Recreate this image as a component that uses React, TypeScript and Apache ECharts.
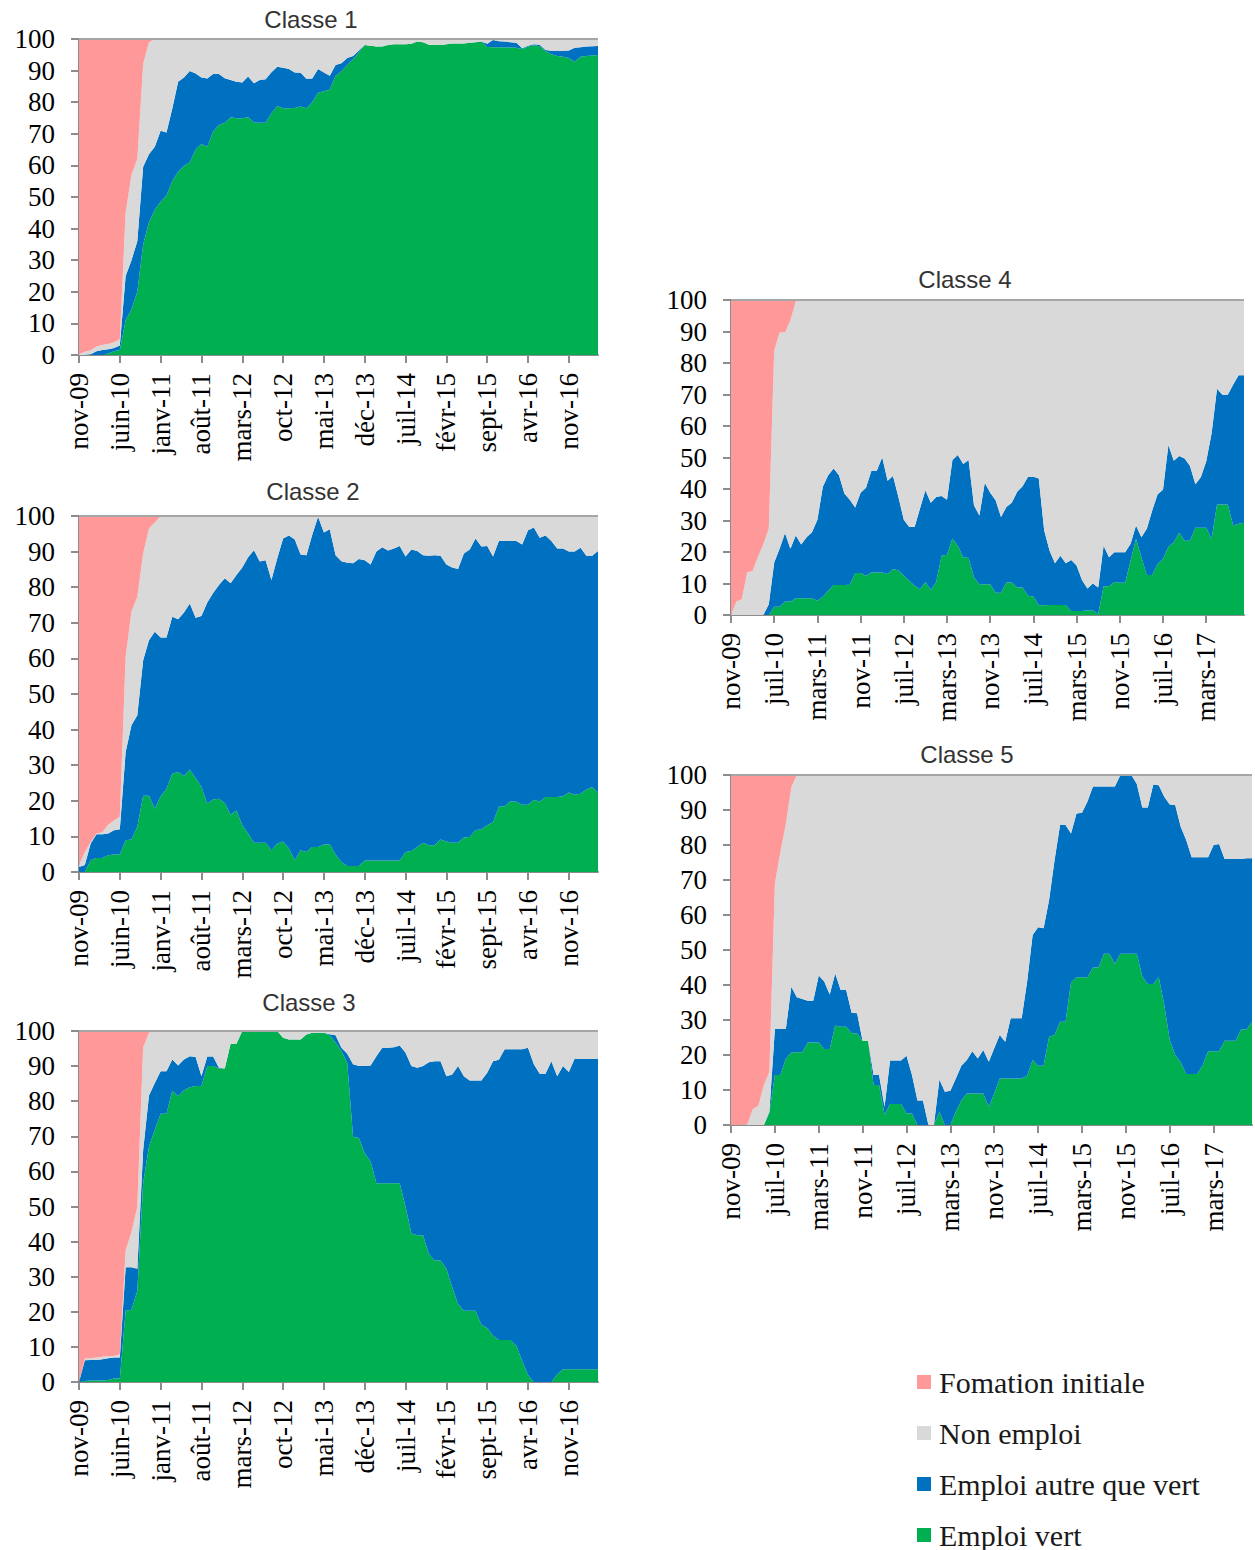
import React, { useEffect, useRef } from "react";
import * as echarts from "echarts";

// ---------- categories ----------
const MONTHS = ["janv", "févr", "mars", "avr", "mai", "juin", "juil", "août", "sept", "oct", "nov", "déc"];
function monthLabels(count: number): string[] {
  const out: string[] = [];
  for (let k = 0; k < count; k++) {
    const m = (10 + k) % 12;
    const y = 2009 + Math.floor((10 + k) / 12);
    out.push(MONTHS[m] + "-" + String(y % 100).padStart(2, "0"));
  }
  return out;
}
const CATS_A = monthLabels(90); // nov-09 .. avr-17
const CATS_B = monthLabels(96); // nov-09 .. oct-17

const SERIES_NAMES = ["Fomation initiale", "Non emploi", "Emploi autre que vert", "Emploi vert"];
const COLORS = { formation: "#FF9999", non: "#D9D9D9", autre: "#0070C0", vert: "#00B050" };

// ---------- data (%), emploi = emploi vert + emploi autre (cumulative) ----------
const C1_VERT = [
  0, 0, 0, 0, 0, 0.5, 1.2, 1.6, 11, 14.5,
  20, 35, 42, 46, 48.5, 50.5, 55, 58, 59.8, 61,
  65, 66.8, 65.9, 70.7, 72.8, 73.5, 75.2, 74.9, 74.9, 75.2,
  73.6, 73.5, 73.5, 76.5, 78.8, 78.1, 78.1, 78.2, 78.6, 78.1,
  80, 83, 83.5, 84, 88.3, 89.8, 91.8, 93.6, 95.8, 98.1,
  97.9, 97.6, 97.6, 98.1, 98.3, 98.3, 98.3, 98.5, 99.2, 99,
  98.2, 98.1, 98.1, 98.3, 98.6, 98.6, 98.6, 98.8, 99, 99.2,
  97.5, 97.4, 97.4, 97.3, 97.3, 97.2, 96.8, 97.6, 98, 97.7,
  96.2, 95.2, 94.6, 94.4, 94, 92.8, 94.4, 94.6, 94.8, 94.9,
];
const C1_EMPLOI = [
  0, 0, 0.2, 1.2, 1.6, 1.8, 2.2, 3, 25, 30,
  36, 59.6, 63.5, 65.9, 71, 70.4, 78, 86.5, 87.8, 89.9,
  89.1, 87.8, 87.5, 88.9, 88.9, 87.6, 87, 86.5, 86.2, 88.1,
  86, 87, 87.3, 89.5, 91.2, 90.9, 90.5, 89.4, 89.3, 87.4,
  87.5, 90.5, 89.4, 88.4, 91.8, 92.3, 94, 94.6, 96.4, 98.1,
  97.9, 97.6, 97.6, 98.1, 98.3, 98.3, 98.3, 98.5, 99.2, 99,
  98.2, 98.1, 98.1, 98.3, 98.6, 98.6, 98.6, 98.8, 99, 99.2,
  98.5, 99.7, 99.3, 99.2, 99, 98.8, 97.1, 97.9, 98.3, 98.2,
  96.5, 96.3, 96.3, 96.3, 96.4, 97.2, 97.4, 97.6, 97.7, 97.8,
];
const C1_FORMATION = [
  99.7, 99, 98.5, 97.3, 96.8, 96.5, 96, 95, 55, 43,
  38, 8, 1, 0, 0, 0, 0, 0, 0, 0,
  0, 0, 0, 0, 0, 0, 0, 0, 0, 0,
  0, 0, 0, 0, 0, 0, 0, 0, 0, 0,
  0, 0, 0, 0, 0, 0, 0, 0, 0, 0,
  0, 0, 0, 0, 0, 0, 0, 0, 0, 0,
  0, 0, 0, 0, 0, 0, 0, 0, 0, 0,
  0, 0, 0, 0, 0, 0, 0, 0, 0, 0,
  0, 0, 0, 0, 0, 0, 0, 0, 0, 0,
];

const C2_VERT = [
  0, 0, 3.3, 3.9, 3.9, 4.7, 4.9, 4.9, 8.9, 9.1,
  12.7, 21.4, 21.4, 17.8, 21.3, 23.4, 27.6, 28.1, 27, 28.8,
  26.4, 23.9, 19.2, 20.4, 20.6, 19.4, 16.1, 17.3, 13.1, 10.8,
  8.2, 8.2, 8.2, 6.1, 8, 8.6, 6.6, 3.3, 6.1, 5.6,
  7, 7, 7.7, 7.8, 4.9, 2.8, 1.7, 1.7, 1.7, 3.2,
  3.2, 3.2, 3.2, 3.2, 3.2, 3.2, 5.6, 5.9, 7, 8.2,
  7.5, 7.5, 9.1, 8.6, 8.2, 8.2, 9.7, 9.8, 11.7, 12,
  13.1, 14, 18.3, 18.5, 19.9, 19.7, 18.9, 18.9, 20.3, 19.7,
  21.1, 21.1, 21.1, 21.3, 22.3, 21.7, 22, 23.2, 23.9, 22.3,
];
const C2_EMPLOI = [
  1.4, 2, 8, 10.6, 10.6, 10.8, 11.7, 12, 33.7, 41.2,
  44, 59.5, 65.1, 67.5, 65.9, 65.9, 71.7, 71, 72.9, 75.4,
  71.4, 71.9, 75.7, 78.4, 80.6, 82.5, 81.1, 83.4, 85.5, 88.4,
  90.4, 87.2, 87.6, 82, 88.1, 93.7, 94.5, 93.4, 89.2, 89,
  94.7, 99.8, 95.4, 96.3, 89, 87.3, 86.9, 86.7, 87.9, 87.6,
  86.4, 90, 91.2, 90.3, 90.9, 91.6, 88.6, 90.6, 90.2, 89,
  88.8, 89, 88.8, 86.4, 85.5, 85.1, 89.5, 90.6, 93.7, 91.4,
  91.6, 88.6, 93, 93, 93, 93, 92, 96, 96.8, 93.9,
  94.5, 93, 90.9, 90.9, 90, 90, 91.1, 88.8, 88.8, 90.2,
];
const C2_FORMATION = [
  98, 94.4, 91.6, 89.2, 88.8, 86.7, 85.5, 84.5, 39.6, 26.9,
  22.7, 10.5, 3.5, 1.8, 0, 0, 0, 0, 0, 0,
  0, 0, 0, 0, 0, 0, 0, 0, 0, 0,
  0, 0, 0, 0, 0, 0, 0, 0, 0, 0,
  0, 0, 0, 0, 0, 0, 0, 0, 0, 0,
  0, 0, 0, 0, 0, 0, 0, 0, 0, 0,
  0, 0, 0, 0, 0, 0, 0, 0, 0, 0,
  0, 0, 0, 0, 0, 0, 0, 0, 0, 0,
  0, 0, 0, 0, 0, 0, 0, 0, 0, 0,
];

const C3_VERT = [
  0, 0.3, 0.4, 0.4, 0.4, 0.6, 1, 1, 20.3, 20.6,
  26, 56.6, 67.1, 71.9, 76.4, 76.4, 83, 81.4, 83.1, 84,
  84.3, 84.3, 90, 90, 89.3, 89.3, 96.4, 96.4, 100, 100,
  100, 100, 100, 100, 100, 98.1, 97.6, 97.6, 97.6, 99,
  99.5, 99.5, 99.5, 98.8, 96.7, 94.3, 90.9, 69.9, 69.5, 65.2,
  62.8, 56.6, 56.6, 56.6, 56.6, 56.6, 49.9, 42.3, 41.8, 41.8,
  36.5, 34.6, 34.6, 32.3, 27, 22.2, 20.3, 20.3, 20.3, 16.3,
  15.4, 13.2, 12, 12, 12, 10.3, 6, 2, 0, 0,
  0, 0, 2.2, 3.6, 3.6, 3.6, 3.6, 3.6, 3.6, 3.6,
];
const C3_EMPLOI = [
  0, 6.2, 6.3, 6.3, 6.5, 6.8, 7, 7, 32.7, 32.7,
  32.3, 66, 81.6, 85.2, 88.5, 88.5, 91.9, 90.2, 91.9, 92.8,
  92.6, 87.1, 92.7, 92.7, 89.5, 89.3, 96.4, 96.4, 100, 100,
  100, 100, 100, 100, 100, 98.1, 97.6, 97.6, 97.6, 99,
  99.5, 99.5, 99.5, 99.1, 98.8, 95.2, 93.5, 90.5, 90, 90,
  90.2, 92.8, 95.2, 95.2, 95.4, 95.9, 93.8, 90, 89.5, 90,
  91.1, 91.4, 91.4, 87.1, 87.6, 90, 87.1, 85.9, 85.9, 85.9,
  88.1, 91.4, 91.8, 94.8, 94.8, 94.8, 94.8, 95.2, 90.5, 87.8,
  87.8, 91.4, 87.1, 90, 88.3, 92.2, 92, 92, 92, 92,
];
const C3_FORMATION = [
  100, 93.3, 93.2, 93, 92.8, 92.6, 92.6, 92.1, 62.5, 57.3,
  50.1, 4.8, 0.5, 0, 0, 0, 0, 0, 0, 0,
  0, 0, 0, 0, 0, 0, 0, 0, 0, 0,
  0, 0, 0, 0, 0, 0, 0, 0, 0, 0,
  0, 0, 0, 0, 0, 0, 0, 0, 0, 0,
  0, 0, 0, 0, 0, 0, 0, 0, 0, 0,
  0, 0, 0, 0, 0, 0, 0, 0, 0, 0,
  0, 0, 0, 0, 0, 0, 0, 0, 0, 0,
  0, 0, 0, 0, 0, 0, 0, 0, 0, 0,
];

const C4_VERT = [
  0, 0, 0, 0, 0, 0, 0, 0, 2.6, 2.6,
  4.3, 4.3, 5.3, 5.3, 5.3, 5.3, 4.5, 5.8, 7.7, 9.5,
  9.5, 9.5, 9.6, 13.3, 13.3, 12.5, 13.5, 13.5, 13.5, 13,
  14.6, 14.1, 12.5, 10.9, 9.3, 8.2, 10.5, 7.9, 10.5, 18.8,
  19.1, 24.2, 22, 18.3, 18.1, 11.9, 9.8, 9.8, 9.8, 7.1,
  7.1, 10.3, 10.3, 8.7, 8.7, 6.1, 5.9, 3.1, 3.1, 3.2,
  3.2, 3.2, 3.2, 1.3, 1.3, 1.3, 1.5, 1.5, 0.2, 9.1,
  9.1, 10.5, 10.2, 10.2, 17.3, 24.2, 18.3, 12.7, 12.7, 16.2,
  17.8, 21.7, 23.1, 26.1, 23.6, 23.6, 27.7, 27.7, 27.7, 24.2,
  35.1, 35.1, 35.1, 28.4, 29, 29.3,
];
const C4_EMPLOI = [
  0, 0, 0, 0, 0, 0, 0, 3.4, 16.7, 21,
  26, 21, 25.2, 22.4, 24.7, 26.3, 30.2, 40.7, 44.4, 46.5,
  44.4, 38.6, 36.6, 34.1, 38.8, 40.4, 45.8, 45.8, 50.1, 42.6,
  44.1, 37.5, 30.2, 27.9, 27.9, 33.8, 39.6, 35.6, 37.5, 37.8,
  36.6, 49.2, 50.8, 47.9, 49.2, 34.8, 31.6, 42, 38.8, 36.4,
  31.1, 34.3, 35.6, 39.1, 40.9, 43.9, 43.9, 43.3, 26.8, 20.4,
  16.4, 18.8, 16.4, 17.5, 15.7, 11.1, 8.4, 10, 8.7, 22,
  18.3, 19.9, 19.9, 19.9, 22.6, 28.4, 24.7, 27.4, 33.2, 38.3,
  39.8, 54, 49, 50.5, 49.7, 47.3, 41.5, 43.7, 48.7, 57.7,
  71.8, 69.9, 69.9, 73.2, 76.1, 76.1,
];
const C4_FORMATION = [
  100, 95.7, 95, 86.5, 86, 81.5, 77.5, 72.5, 16, 10.3,
  10.3, 6.5, 0.5, 0, 0, 0, 0, 0, 0, 0,
  0, 0, 0, 0, 0, 0, 0, 0, 0, 0,
  0, 0, 0, 0, 0, 0, 0, 0, 0, 0,
  0, 0, 0, 0, 0, 0, 0, 0, 0, 0,
  0, 0, 0, 0, 0, 0, 0, 0, 0, 0,
  0, 0, 0, 0, 0, 0, 0, 0, 0, 0,
  0, 0, 0, 0, 0, 0, 0, 0, 0, 0,
  0, 0, 0, 0, 0, 0, 0, 0, 0, 0,
  0, 0, 0, 0, 0, 0,
];

const C5_VERT = [
  0, 0, 0, 0, 0, 0, 0, 3.5, 14.3, 14.3,
  18.9, 20.8, 20.8, 20.8, 23.6, 23.6, 23.6, 21.7, 21.7, 28.4,
  28.1, 28.1, 26.2, 26.2, 24, 24, 11.4, 11.4, 2.9, 6,
  6, 6, 3.3, 3.3, 0, 0, 0, 0, 3.8, 0,
  0, 3.8, 7, 9, 9, 9, 9, 5.2, 9, 13.3,
  13.3, 13.3, 13.3, 13.3, 14.1, 18.6, 16.9, 16.9, 25.2, 25.7,
  29.5, 29.5, 40.8, 42.2, 42.2, 42.2, 45, 45, 48.9, 48.9,
  46, 48.9, 48.9, 48.9, 48.9, 42.4, 40.3, 40.3, 42.2, 34.3,
  24.3, 20, 17.9, 14.6, 14.6, 14.6, 17.1, 21.1, 21.1, 21.1,
  24.1, 24.1, 24.1, 27.3, 27.3, 29.5,
];
const C5_EMPLOI = [
  0, 0, 0, 0, 0, 0, 0, 3.8, 27.4, 27.4,
  27.4, 39.5, 36.5, 36, 35.5, 35.5, 42.7, 41, 37.3, 43.3,
  38.6, 38.6, 32.1, 31.9, 24, 24, 14.3, 14.3, 5.2, 18.4,
  18.4, 18.4, 19.8, 14.3, 7, 7, 0, 0, 13, 9.5,
  9.8, 13.3, 16.9, 18.6, 21.1, 19, 21.4, 18.1, 21.9, 25.7,
  23.8, 30.5, 30.5, 30.5, 41, 54.3, 56.5, 56.2, 64.3, 75.7,
  85.7, 85.7, 83.3, 89, 89.2, 92.4, 96.7, 96.7, 96.7, 96.7,
  96.7, 100, 100, 100, 97.4, 90.7, 90.7, 97.3, 97.1, 93.8,
  91.6, 91.4, 85.2, 81.4, 76.5, 76.5, 76.5, 76.5, 80, 80.3,
  76, 76, 76, 76, 76.2, 76.2,
];
const C5_FORMATION = [
  100, 100, 100, 99.7, 95.4, 94.5, 88.6, 84.8, 31, 22,
  14, 3.5, 0, 0, 0, 0, 0, 0, 0, 0,
  0, 0, 0, 0, 0, 0, 0, 0, 0, 0,
  0, 0, 0, 0, 0, 0, 0, 0, 0, 0,
  0, 0, 0, 0, 0, 0, 0, 0, 0, 0,
  0, 0, 0, 0, 0, 0, 0, 0, 0, 0,
  0, 0, 0, 0, 0, 0, 0, 0, 0, 0,
  0, 0, 0, 0, 0, 0, 0, 0, 0, 0,
  0, 0, 0, 0, 0, 0, 0, 0, 0, 0,
  0, 0, 0, 0, 0, 0,
];

const SERIF = "'Liberation Serif', 'Times New Roman', serif";
const SANS = "'Liberation Sans', Arial, sans-serif";
const AXIS_GREY = "#8C8C8C";

const PANELS = [
  { title: "Classe 1", vert: C1_VERT, emploi: C1_EMPLOI, formation: C1_FORMATION, cats: CATS_A, every: 7,
    grid: { left: 79, top: 39, width: 519, height: 316 }, tx: 311, ty: 7 },
  { title: "Classe 2", vert: C2_VERT, emploi: C2_EMPLOI, formation: C2_FORMATION, cats: CATS_A, every: 7,
    grid: { left: 79, top: 516, width: 519, height: 356 }, tx: 313, ty: 479 },
  { title: "Classe 3", vert: C3_VERT, emploi: C3_EMPLOI, formation: C3_FORMATION, cats: CATS_A, every: 7,
    grid: { left: 79, top: 1031, width: 519, height: 351 }, tx: 309, ty: 990 },
  { title: "Classe 4", vert: C4_VERT, emploi: C4_EMPLOI, formation: C4_FORMATION, cats: CATS_B, every: 8,
    grid: { left: 731, top: 300, width: 513, height: 315 }, tx: 965, ty: 267 },
  { title: "Classe 5", vert: C5_VERT, emploi: C5_EMPLOI, formation: C5_FORMATION, cats: CATS_B, every: 8,
    grid: { left: 731, top: 775, width: 521, height: 350 }, tx: 967, ty: 742 },
];

// legend rows (one legend per row, so nothing wraps)
const LEGEND_ROW_TOPS = [1367, 1418, 1469, 1520];

const r1 = (v: number) => Math.round(Math.max(0, v) * 10) / 10;

function buildOption() {
  const series: any[] = [];
  PANELS.forEach((p, k) => {
    const autre = p.emploi.map((e, i) => r1(e - p.vert[i]));
    const non = p.emploi.map((e, i) => r1(100 - p.formation[i] - e));
    const parts: [string, number[], string][] = [
      ["Emploi vert", p.vert, COLORS.vert],
      ["Emploi autre que vert", autre, COLORS.autre],
      ["Non emploi", non, COLORS.non],
      ["Fomation initiale", p.formation, COLORS.formation],
    ];
    parts.forEach(([name, data, color], j) => {
      const s: any = {
        name,
        type: "line",
        xAxisIndex: k,
        yAxisIndex: k,
        stack: "stack" + k,
        data,
        symbol: "none",
        showSymbol: false,
        silent: true,
        lineStyle: { width: 0, color },
        itemStyle: { color },
        areaStyle: { color, opacity: 1 },
        emphasis: { disabled: true },
      };
      if (j === 3) {
        s.markLine = {
          silent: true,
          symbol: "none",
          label: { show: false },
          lineStyle: { color: "#A6A6A6", width: 2, type: "solid" },
          data: [{ yAxis: 100 }],
        };
      }
      series.push(s);
    });
  });

  return {
    animation: false,
    backgroundColor: "#ffffff",
    title: PANELS.map((p) => ({
      text: p.title,
      left: p.tx,
      top: p.ty,
      textAlign: "center",
      padding: 0,
      textStyle: { fontFamily: SANS, fontSize: 24, fontWeight: "normal", color: "#333333" },
    })),
    legend: SERIES_NAMES.map((name, i) => ({
      orient: "vertical",
      left: 917,
      top: LEGEND_ROW_TOPS[i],
      padding: 0,
      itemWidth: 14,
      itemHeight: 14,
      icon: "rect",
      selectedMode: false,
      data: [name],
      textStyle: { fontFamily: SERIF, fontSize: 30, color: "#1a1a1a", padding: [0, 0, 0, 3] },
    })),
    grid: PANELS.map((p) => ({ ...p.grid, containLabel: false })),
    xAxis: PANELS.map((p, k) => ({
      type: "category",
      gridIndex: k,
      data: p.cats,
      boundaryGap: false,
      axisLine: { show: true, lineStyle: { color: AXIS_GREY, width: 2 } },
      axisTick: { show: true, interval: p.every - 1, length: 8, lineStyle: { color: AXIS_GREY, width: 2 } },
      axisLabel: {
        interval: p.every - 1,
        rotate: 90,
        margin: 18,
        fontFamily: SERIF,
        fontSize: 27,
        color: "#000000",
      },
      splitLine: { show: false },
    })),
    yAxis: PANELS.map((p, k) => ({
      type: "value",
      gridIndex: k,
      min: 0,
      max: 100,
      interval: 10,
      axisLine: { show: true, lineStyle: { color: AXIS_GREY, width: 2 } },
      axisTick: { show: true, length: 8, lineStyle: { color: AXIS_GREY, width: 2 } },
      axisLabel: { margin: 24, fontFamily: SERIF, fontSize: 27, color: "#000000" },
      splitLine: { show: false },
    })),
    series,
  };
}

export default function App() {
  const ref = useRef<HTMLDivElement>(null);
  useEffect(() => {
    document.body.style.margin = "0";
    if (!ref.current) return;
    const chart = echarts.init(ref.current, undefined, { renderer: "svg" });
    chart.setOption(buildOption() as any);
    return () => chart.dispose();
  }, []);
  return <div ref={ref} style={{ width: 1255, height: 1550, background: "#fff" }} />;
}
